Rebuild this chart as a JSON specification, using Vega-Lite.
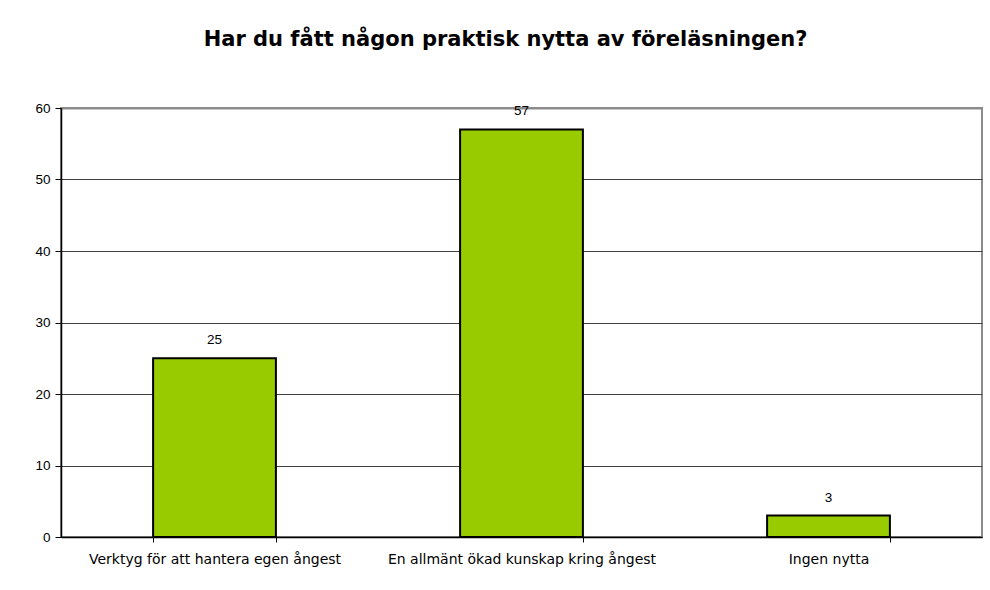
{
  "$schema": "https://vega.github.io/schema/vega-lite/v6.json",
  "width": 921,
  "height": 429,
  "autosize": "none",
  "padding": {"left": 61, "top": 108, "right": 8, "bottom": 53},
  "background": "white",
  "title": {
    "text": "Har du fått någon praktisk nytta av föreläsningen?",
    "font": "DejaVu Sans",
    "fontSize": 21,
    "fontWeight": "bold",
    "color": "#000000",
    "anchor": "middle",
    "dx": -16,
    "offset": 51
  },
  "data": {
    "values": [
      {"svar": "Verktyg för att hantera egen ångest", "antal": 25},
      {"svar": "En allmänt ökad kunskap kring ångest", "antal": 57},
      {"svar": "Ingen nytta", "antal": 3}
    ]
  },
  "encoding": {
    "x": {
      "field": "svar",
      "type": "nominal",
      "sort": null,
      "scale": {"paddingInner": 0.6, "paddingOuter": 0.3},
      "axis": {
        "title": null,
        "labelAngle": 0,
        "tickBand": "extent",
        "grid": false,
        "domainColor": "#000000",
        "domainWidth": 1.5,
        "tickColor": "#000000",
        "tickSize": 5,
        "labelPadding": 10,
        "labelFont": "DejaVu Sans",
        "labelFontSize": 14,
        "labelColor": "#000000",
        "labelLimit": 400
      }
    },
    "y": {
      "field": "antal",
      "type": "quantitative",
      "scale": {"domain": [0, 60], "nice": false},
      "axis": {
        "title": null,
        "values": [0, 10, 20, 30, 40, 50, 60],
        "grid": true,
        "gridColor": {"condition": {"test": "datum.value === 60", "value": "#8c8c8c"}, "value": "#404040"},
        "gridWidth": {"condition": {"test": "datum.value === 60", "value": 2}, "value": 1},
        "domainColor": "#000000",
        "domainWidth": 1.5,
        "tickColor": "#000000",
        "tickSize": 6,
        "labelPadding": 5,
        "labelFont": "Liberation Sans",
        "labelFontSize": 13.5,
        "labelColor": "#000000"
      }
    }
  },
  "layer": [
    {
      "mark": {"type": "bar", "color": "#99CC00", "stroke": "#000000", "strokeWidth": 2}
    },
    {
      "mark": {"type": "text", "baseline": "bottom", "dy": -11, "font": "Liberation Sans", "fontSize": 13.5, "color": "#000000"},
      "encoding": {"text": {"field": "antal", "type": "quantitative"}}
    }
  ],
  "config": {
    "view": {"stroke": "#8c8c8c", "strokeWidth": 2}
  }
}
